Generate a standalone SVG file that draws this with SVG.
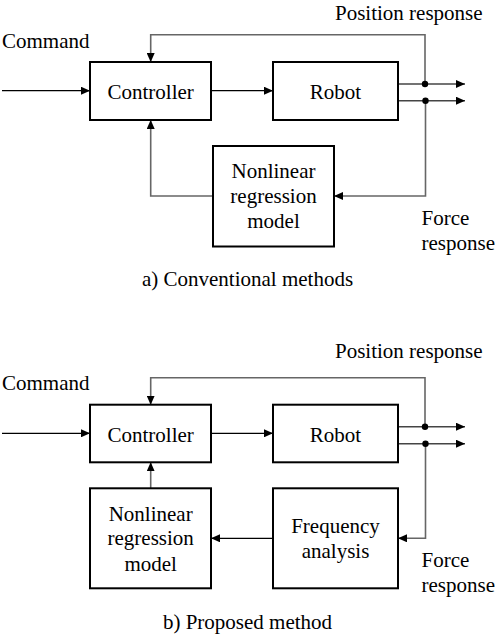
<svg xmlns="http://www.w3.org/2000/svg" width="496" height="636" viewBox="0 0 496 636">
<defs>
<marker id="ah" markerUnits="userSpaceOnUse" markerWidth="10" markerHeight="8" refX="9" refY="4" orient="auto">
<path d="M0,0 L9,4 L0,8 z" fill="#000"/>
</marker>
<style>
.box{fill:#fff;stroke:#000;stroke-width:2}
.t{font-family:"Liberation Serif","Times New Roman","DejaVu Serif",serif;font-size:21px;fill:#000}
.c{text-anchor:middle}
.ln{fill:none;stroke:#000;stroke-width:1.2}
.fb{fill:none;stroke:#666;stroke-width:1.6}
.out{fill:none;stroke:#444;stroke-width:1.6}
.dot{fill:#000}
</style>
</defs>
<rect width="496" height="636" fill="#fff"/>

<!-- Part a -->
<g id="connectors-a">
<path class="ln" d="M2,90.7 H90" marker-end="url(#ah)"/>
<path class="ln" d="M211,90.7 H273" marker-end="url(#ah)"/>
<path class="out" d="M398,84 H465" marker-end="url(#ah)"/>
<path class="out" d="M398,100.7 H465" marker-end="url(#ah)"/>
<path class="fb" d="M425,84 V34.7 H150.7 V62" marker-end="url(#ah)"/>
<path class="fb" d="M425.5,100.7 V196 H334" marker-end="url(#ah)"/>
<path class="fb" d="M213,196 H150.7 V120" marker-end="url(#ah)"/>
<circle class="dot" cx="425" cy="84" r="3.2"/>
<circle class="dot" cx="425.5" cy="100.7" r="3.2"/>
</g>
<g id="controller-a">
<rect class="box" x="90" y="62" width="121" height="58"/>
<text class="t c" x="150.7" y="99.3">Controller</text>
</g>
<g id="robot-a">
<rect class="box" x="273" y="62" width="125" height="58"/>
<text class="t c" x="335.5" y="99.3">Robot</text>
</g>
<g id="nlr-a">
<rect class="box" x="213" y="146" width="121" height="100.5"/>
<text class="t c" x="273.5" y="177.7">Nonlinear</text>
<text class="t c" x="273.5" y="203">regression</text>
<text class="t c" x="273.5" y="228">model</text>
</g>
<g id="labels-a">
<text class="t" x="335" y="20">Position response</text>
<text class="t" x="2" y="47.5">Command</text>
<text class="t" x="421.5" y="225">Force</text>
<text class="t" x="421.5" y="249.5">response</text>
<text class="t c" x="247.5" y="286">a) Conventional methods</text>
</g>

<!-- Part b -->
<g id="connectors-b">
<path class="ln" d="M2,433.3 H90" marker-end="url(#ah)"/>
<path class="ln" d="M211,433.3 H273" marker-end="url(#ah)"/>
<path class="out" d="M398,426.7 H465" marker-end="url(#ah)"/>
<path class="out" d="M398,443.7 H465" marker-end="url(#ah)"/>
<path class="fb" d="M425,426.7 V377.7 H150.7 V404.7" marker-end="url(#ah)"/>
<path class="fb" d="M425.5,443.7 V538.3 H398" marker-end="url(#ah)"/>
<path class="ln" d="M273,538.3 H211" marker-end="url(#ah)"/>
<path class="fb" d="M150.7,488.3 V462.3" marker-end="url(#ah)"/>
<circle class="dot" cx="425" cy="426.7" r="3.2"/>
<circle class="dot" cx="425.5" cy="443.7" r="3.2"/>
</g>
<g id="controller-b">
<rect class="box" x="90" y="404.7" width="121" height="57.6"/>
<text class="t c" x="150.7" y="441.5">Controller</text>
</g>
<g id="robot-b">
<rect class="box" x="273" y="404.7" width="125" height="57.6"/>
<text class="t c" x="335.5" y="441.5">Robot</text>
</g>
<g id="nlr-b">
<rect class="box" x="90" y="488.3" width="121" height="100"/>
<text class="t c" x="150.7" y="520.7">Nonlinear</text>
<text class="t c" x="150.7" y="545">regression</text>
<text class="t c" x="150.7" y="570.7">model</text>
</g>
<g id="freq-b">
<rect class="box" x="273" y="488.3" width="125" height="100"/>
<text class="t c" x="335.5" y="532.7">Frequency</text>
<text class="t c" x="335.5" y="558.3">analysis</text>
</g>
<g id="labels-b">
<text class="t" x="335" y="357.7">Position response</text>
<text class="t" x="2" y="390">Command</text>
<text class="t" x="421.5" y="567.3">Force</text>
<text class="t" x="421.5" y="592">response</text>
<text class="t c" x="247.5" y="629">b) Proposed method</text>
</g>
</svg>
